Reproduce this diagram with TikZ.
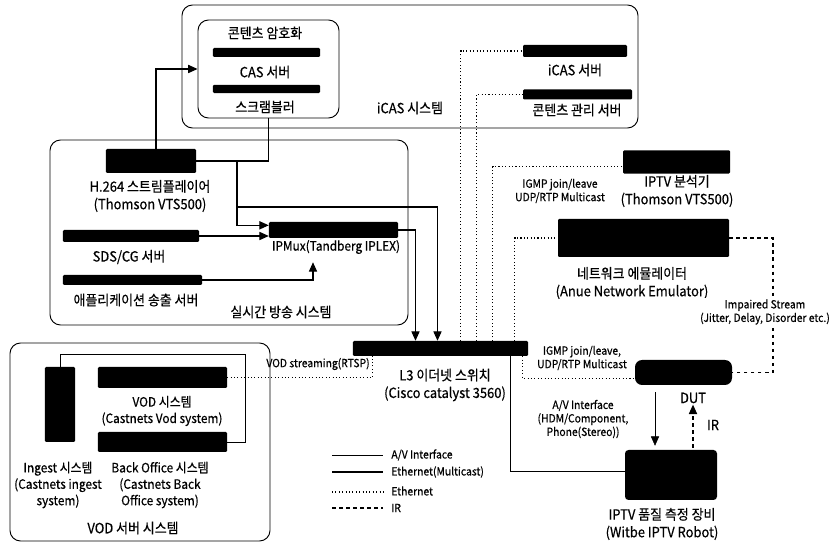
\documentclass[tikz,border=0pt]{standalone}
\usepackage{fontspec}
\setmainfont{Noto Sans CJK KR}[FakeStretch=0.92,FakeBold=0.5]
\usetikzlibrary{arrows.meta,calc}

\newcommand\lblfont{\fontsize{12}{15}\selectfont}
\newcommand\midfont{\fontsize{11}{14}\selectfont}
\newcommand\smlfont{\fontsize{9.6}{11.5}\selectfont}

\tikzset{
  device/.style={fill=black,inner sep=0pt,rounded corners=1pt},
  sysbox/.style={draw,line width=0.8pt,rounded corners=9pt},
  lbl/.style={font=\lblfont,align=center,inner sep=1pt},
  midlbl/.style={font=\midfont,align=center,inner sep=1pt},
  sml/.style={font=\smlfont,align=center,inner sep=1pt},
  mcast/.style={line width=0.9pt},
  eth/.style={line width=0.9pt,dotted},
  avline/.style={line width=0.4pt},
  irline/.style={line width=0.9pt,dashed},
  tip/.style={-{Triangle[length=8pt,width=7pt]}}
}

\begin{document}
\begin{tikzpicture}[x=0.03cm,y=-0.03cm]
  \useasboundingbox (0,0) rectangle (830,545);

  % system boxes
  \draw[sysbox] (182,5) rectangle (638,128);
  \draw[sysbox] (50,140) rectangle (408,325);
  \draw[sysbox] (10,343) rectangle (270,541);
  \node[lbl] (icaslbl) at (410,108) {iCAS 시스템};
  \node[lbl] (livelbl) at (281,312) {실시간 방송 시스템};
  \node[lbl] (vodsyslbl) at (133,528) {VOD 서버 시스템};

  % iCAS system
  \node[sysbox,minimum width=4.23cm,minimum height=2.94cm] (crypto) at (268.5,69) {};
  \node[device,minimum width=3.21cm,minimum height=0.27cm] (casbar) at (266.5,52.5) {};
  \node[device,minimum width=3.21cm,minimum height=0.25cm] (scrbar) at (266.5,89) {};
  \node[lbl] (cryptolbl) at (265,33) {콘텐츠 암호화};
  \node[lbl] (caslbl) at (265,72) {CAS 서버};
  \node[lbl] (scrlbl) at (265,107) {스크램블러};
  \node[device,minimum width=3.12cm,minimum height=0.36cm] (icas) at (575,51) {};
  \node[lbl] (icassrv) at (575,70) {iCAS 서버};
  \node[device,minimum width=3.27cm,minimum height=0.3cm] (cms) at (577.5,94.5) {};
  \node[lbl] (cmslbl) at (577,110) {콘텐츠 관리 서버};

  % live broadcast system
  \node[device,minimum width=2.7cm,minimum height=0.72cm] (h264) at (151,161) {};
  \node[lbl] (h264lbl) at (150,196) {H.264 스트림플레이어\\(Thomson VTS500)};
  \node[device,minimum width=4.08cm,minimum height=0.36cm] (sds) at (131,236) {};
  \node[lbl] (sdslbl) at (129,257) {SDS/CG 서버};
  \node[device,minimum width=4.17cm,minimum height=0.3cm] (app) at (132.5,280) {};
  \node[lbl] (applbl) at (136,300) {애플리케이션 송출 서버};
  \node[device,minimum width=3.87cm,minimum height=0.48cm] (ipmux) at (333.5,230) {};
  \node[midlbl] (ipmuxlbl) at (336,247) {IPMux(Tandberg IPLEX)};

  % switch and test bed
  \node[device,minimum width=5.25cm,minimum height=0.45cm] (switch) at (440.5,348.5) {};
  \node[lbl] (switchlbl) at (445,385) {L3 이더넷 스위치\\(Cisco catalyst 3560)};
  \node[device,minimum width=3.21cm,minimum height=0.7cm] (analyzer) at (676.5,162) {};
  \node[lbl] (analyzerlbl) at (677,191) {IPTV 분석기\\(Thomson VTS500)};
  \node[device,minimum width=5.13cm,minimum height=1.14cm] (emulator) at (643.5,238) {};
  \node[lbl] (emulatorlbl) at (632,283) {네트워크 에뮬레이터\\(Anue Network Emulator)};
  \node[device,rounded corners=6pt,minimum width=2.91cm,minimum height=0.75cm] (dut) at (683.5,372.5) {};
  \node[lbl] (dutlbl) at (693,398) {DUT};
  \node[device,rounded corners=3pt,minimum width=2.76cm,minimum height=1.5cm] (robot) at (671,475) {};
  \node[lbl] (robotlbl) at (662,524) {IPTV 품질 측정 장비\\(Witbe IPTV Robot)};

  % VOD server system
  \node[device,minimum width=0.9cm,minimum height=2.25cm] (ingest) at (60,404.5) {};
  \node[device,minimum width=3.87cm,minimum height=0.63cm] (vod) at (162.5,377.5) {};
  \node[device,minimum width=3.87cm,minimum height=0.6cm] (backoffice) at (162.5,442) {};
  \node[midlbl] (vodlbl) at (162,411) {VOD 시스템\\(Castnets Vod system)};
  \node[midlbl] (ingestlbl) at (58,485) {Ingest 시스템\\(Castnets ingest\\system)};
  \node[midlbl] (backofficelbl) at (160,485) {Back Office 시스템\\(Castnets Back\\Office system)};

  % live stream connections
  \coordinate (j1) at (237,161);
  \coordinate (j2) at (237,207);
  \draw[mcast,tip] ($(h264.north)+(5,0)$) |- (crypto.west);
  \draw[mcast] (crypto.south) |- (h264.east);
  \draw[mcast,tip] (j1) |- ([yshift=4pt]ipmux.west);
  \draw[mcast,tip] (sds.east) -- (sds.east -| ipmux.west);
  \draw[mcast,tip] (app.east) -| ($(ipmuxlbl.south)+(-23,7)$);
  \draw[mcast,tip] (j2) -| ($(switch.north)+(-3,0)$);
  \draw[mcast,tip] (ipmux.east) -| ($(switch.north)+(-25,0)$);

  % ethernet links from the switch
  \draw[eth] ($(switch.north)+(20,0)$) |- (icas.west);
  \draw[eth] ($(switch.north)+(36,0)$) |- (cms.west);
  \draw[eth] ($(switch.north)+(52,0)$) |- ([yshift=-4pt]analyzer.west);
  \draw[eth] ($(switch.north)+(74,0)$) |- (emulator.west);
  \draw[eth] ($(switch.south)+(82,0)$) |- ([yshift=-5pt]dut.west);
  \draw[mcast] ($(switch.south)+(70,0)$) |- ([yshift=3pt]robot.west);
  \draw[eth] (vod.east) -| ($(switch.south)+(-68,0)$);
  \node[sml] (rtsplbl) at (318,364) {VOD streaming(RTSP)};
  \node[sml] (igmp1) at (560,191) {IGMP join/leave\\UDP/RTP Multicast};
  \node[sml] (igmp2) at (582,358) {IGMP join/leave,\\UDP/RTP Multicast};

  % VOD internal link
  \coordinate (j3) at (245,354);
  \draw[avline] (ingest.north) |- (j3) |- (backoffice.east);

  % impaired stream and DUT links
  \coordinate (irc) at (773,300);
  \draw[irline] (emulator.east) -| (irc) |- (dut.east);
  \node[sml,fill=white] (impairlbl) at (765,312) {Impaired Stream\\(Jitter, Delay, Disorder etc.)};
  \draw[avline,tip] ($(dut.south)+(-28.5,7)$) -- ($(robot.north)+(-16,-4)$);
  \draw[irline,tip] ($(robot.north)+(22,-2)$) -- (dutlbl.south);
  \node[sml] (avlbl) at (583,419) {A/V Interface\\(HDM/Component,\\Phone(Stereo))};
  \node[lbl] (irlbl) at (713,425) {IR};

  % legend
  \draw[avline] (332,455) -- (383,455);
  \draw[mcast] (332,472) -- (383,472);
  \draw[eth] (332,492) -- (383,492);
  \draw[irline] (332,508) -- (383,508);
  \node[sml,anchor=west] (lgav) at (390,455) {A/V Interface};
  \node[sml,anchor=west] (lgmc) at (390,472) {Ethernet(Multicast)};
  \node[sml,anchor=west] (lget) at (390,491) {Ethernet};
  \node[sml,anchor=west] (lgir) at (390,508) {IR};
\end{tikzpicture}
\end{document}
